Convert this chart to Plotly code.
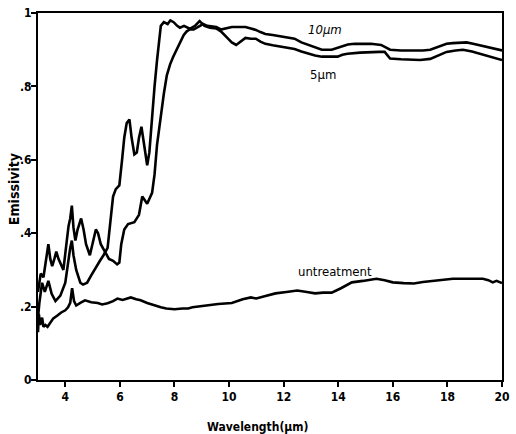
import plotly.graph_objects as go

# Emissivity spectra: two textured samples and the untreated surface
wl_5um = [3.0, 3.05, 3.15, 3.25, 3.38, 3.5, 3.64, 3.82, 4.0, 4.1, 4.18, 4.24, 4.3, 4.4,
          4.55, 4.65, 4.8, 4.95, 5.1, 5.27, 5.4, 5.55, 5.65, 5.75, 5.85, 5.98, 6.08, 6.16,
          6.25, 6.35, 6.43, 6.53, 6.62, 6.7, 6.79, 6.88, 7.0, 7.08, 7.18, 7.27, 7.36, 7.45,
          7.5, 7.61, 7.75, 7.85, 7.97, 8.1, 8.2, 8.35, 8.56, 8.75, 8.92, 9.1, 9.3, 9.53, 9.7,
          9.9, 10.1, 10.26, 10.45, 10.6, 10.8, 10.98, 11.15, 11.33, 11.6, 11.95, 12.2, 12.4,
          12.65, 12.9, 13.15, 13.4, 13.7, 13.98, 14.15, 14.34, 14.8, 15.2, 15.5, 15.7, 15.9,
          16.3, 16.7, 17.0, 17.37, 17.7, 17.97, 18.3, 18.57, 18.9, 19.18, 19.5, 19.9, 20.0]
em_5um = [0.17, 0.21, 0.265, 0.24, 0.27, 0.235, 0.215, 0.23, 0.265, 0.32, 0.36, 0.38, 0.34,
          0.30, 0.265, 0.26, 0.265, 0.285, 0.305, 0.325, 0.34, 0.36, 0.43, 0.50, 0.52, 0.53,
          0.60, 0.66, 0.70, 0.71, 0.66, 0.615, 0.62, 0.66, 0.69, 0.64, 0.585, 0.62, 0.73,
          0.80, 0.87, 0.94, 0.965, 0.975, 0.97, 0.98, 0.975, 0.965, 0.96, 0.965, 0.957,
          0.965, 0.978, 0.965, 0.96, 0.958, 0.95, 0.935, 0.92, 0.913, 0.925, 0.932, 0.93,
          0.93, 0.922, 0.916, 0.912, 0.908, 0.905, 0.902, 0.895, 0.889, 0.884, 0.881, 0.88,
          0.881, 0.886, 0.889, 0.892, 0.894, 0.894, 0.894, 0.876, 0.874, 0.873, 0.872, 0.875,
          0.886, 0.894, 0.898, 0.90, 0.895, 0.889, 0.882, 0.875, 0.872]

wl_10um = [3.0, 3.05, 3.1, 3.2, 3.3, 3.38, 3.45, 3.52, 3.6, 3.67, 3.75, 3.82, 3.93, 4.04,
           4.12, 4.18, 4.24, 4.3, 4.37, 4.45, 4.58, 4.67, 4.76, 4.9, 5.0, 5.12, 5.2, 5.3,
           5.45, 5.6, 5.75, 5.9, 5.98, 6.05, 6.16, 6.3, 6.53, 6.7, 6.82, 6.9, 7.0, 7.18,
           7.27, 7.36, 7.5, 7.61, 7.72, 7.84, 7.95, 8.09, 8.2, 8.34, 8.45, 8.56, 8.7, 8.8,
           8.92, 9.05, 9.2, 9.35, 9.53, 9.7, 9.9, 10.1, 10.26, 10.6, 10.8, 10.98, 11.15,
           11.33, 11.6, 11.95, 12.2, 12.4, 12.65, 12.9, 13.15, 13.4, 13.76, 14.1, 14.35,
           14.6, 15.2, 15.57, 15.9, 16.3, 16.76, 17.1, 17.37, 17.7, 17.97, 18.2, 18.46,
           18.7, 18.94, 19.2, 19.4, 19.7, 20.0]
em_10um = [0.24, 0.27, 0.29, 0.28, 0.33, 0.37, 0.33, 0.31, 0.33, 0.35, 0.33, 0.32, 0.30,
            0.37, 0.42, 0.44, 0.475, 0.415, 0.38, 0.41, 0.44, 0.41, 0.37, 0.34, 0.37, 0.41,
            0.40, 0.37, 0.35, 0.33, 0.325, 0.315, 0.32, 0.37, 0.41, 0.425, 0.43, 0.45, 0.50,
            0.49, 0.48, 0.51, 0.56, 0.64, 0.72, 0.78, 0.83, 0.86, 0.88, 0.90, 0.92, 0.94,
            0.95, 0.955, 0.955, 0.96, 0.965, 0.97, 0.965, 0.963, 0.962, 0.955, 0.958, 0.962,
            0.962, 0.962, 0.958, 0.954, 0.948, 0.943, 0.94, 0.935, 0.932, 0.93, 0.92, 0.913,
            0.905, 0.90, 0.90, 0.908, 0.914, 0.916, 0.916, 0.913, 0.90, 0.898, 0.897, 0.898,
            0.90, 0.91, 0.916, 0.918, 0.92, 0.92, 0.916, 0.912, 0.908, 0.903, 0.898]

wl_untreated = [3.0, 3.03, 3.08, 3.15, 3.2, 3.27, 3.35, 3.45, 3.56, 3.7, 3.85, 4.0, 4.1,
                4.18, 4.25, 4.32, 4.4, 4.55, 4.72, 4.95, 5.19, 5.35, 5.55, 5.75, 5.91, 6.1,
                6.4, 6.6, 6.76, 7.0, 7.25, 7.5, 7.7, 8.0, 8.3, 8.5, 8.66, 9.1, 9.6, 10.1,
                10.5, 10.8, 11.0, 11.3, 11.7, 12.1, 12.5, 12.85, 13.15, 13.45, 13.76, 14.1,
                14.5, 14.9, 15.4, 15.7, 16.0, 16.4, 16.77, 17.1, 17.5, 17.85, 18.2, 18.8,
                19.3, 19.5, 19.66, 19.8, 20.0]
em_untreated = [0.13, 0.18, 0.15, 0.17, 0.145, 0.15, 0.145, 0.155, 0.168, 0.175, 0.184,
                0.19, 0.198, 0.21, 0.25, 0.215, 0.203, 0.21, 0.217, 0.212, 0.21, 0.206,
                0.209, 0.215, 0.222, 0.218, 0.225, 0.22, 0.217, 0.21, 0.203, 0.198, 0.195,
                0.193, 0.195, 0.195, 0.198, 0.203, 0.207, 0.21, 0.22, 0.225, 0.222, 0.228,
                0.236, 0.24, 0.244, 0.24, 0.236, 0.238, 0.238, 0.25, 0.266, 0.27, 0.276,
                0.272, 0.266, 0.264, 0.263, 0.267, 0.271, 0.274, 0.276, 0.276, 0.276, 0.272,
                0.266, 0.27, 0.264]

x_ticks = [4, 6, 8, 10, 12, 14, 16, 18, 20]
y_ticks = [0, 0.2, 0.4, 0.6, 0.8, 1.0]
y_tick_text = ["0", ".2", ".4", ".6", ".8", "1"]

FONT = "DejaVu Sans Condensed, Liberation Sans Narrow, Liberation Sans, Arial"

fig = go.Figure()
for wl, em in [(wl_5um, em_5um), (wl_10um, em_10um), (wl_untreated, em_untreated)]:
    fig.add_trace(go.Scatter(x=wl, y=em, mode="lines",
                             line=dict(color="black", width=2.6), showlegend=False))

# Curve labels
fig.add_annotation(x=13.5, y=0.954, text="<i>10μm</i>", showarrow=False,
                   font=dict(family=FONT, size=13, color="black"))
fig.add_annotation(x=13.44, y=0.832, text="5μm", showarrow=False,
                   font=dict(family=FONT, size=13, color="black"))
fig.add_annotation(x=13.87, y=0.295, text="untreatment", showarrow=False,
                   font=dict(family=FONT, size=13, color="black"))

# Axis titles
fig.add_annotation(xref="paper", yref="paper", x=0, xshift=-24, xanchor="center",
                   y=0.52, yanchor="middle",
                   text="<b>Emissivity</b>", textangle=-90, showarrow=False,
                   font=dict(family=FONT, size=14, color="black"))
fig.add_annotation(xref="paper", yref="paper", x=0.475, xanchor="center",
                   y=-0.127, yanchor="middle",
                   text="<b>Wavelength(μm)</b>", showarrow=False,
                   font=dict(family=FONT, size=12, color="black"))

axis_common = dict(showline=True, linecolor="black", linewidth=2, mirror=True,
                   showgrid=False, zeroline=False, ticks="outside", ticklen=5,
                   tickwidth=2, tickcolor="black",
                   tickfont=dict(family=FONT, size=12, color="black", weight="bold"))

fig.update_xaxes(range=[3, 20], tickvals=x_ticks, ticklabelstandoff=0, **axis_common)
fig.update_yaxes(range=[0, 1], tickvals=y_ticks, ticktext=y_tick_text,
                 ticklabelstandoff=-3, **axis_common)

fig.update_layout(width=516, height=434, margin=dict(l=38, r=6, t=10, b=54),
                  plot_bgcolor="white", paper_bgcolor="white")

fig.write_html("out.html")
